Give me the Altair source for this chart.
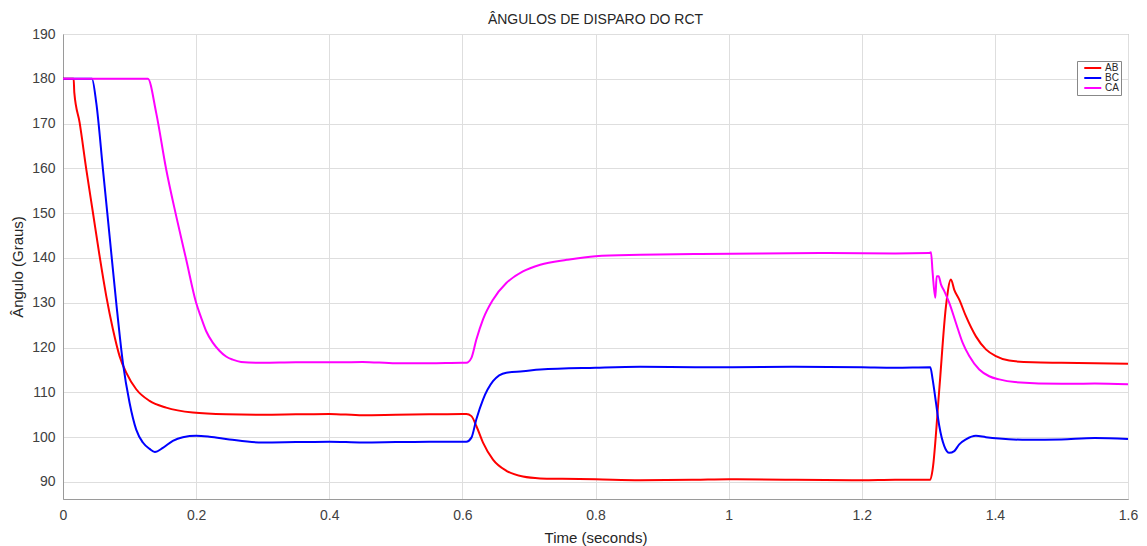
import altair as alt
import pandas as pd

AB_t = [0, 0.016, 0.017, 0.025, 0.035, 0.045, 0.055, 0.065, 0.075, 0.085, 0.095, 0.11, 0.13, 0.155, 0.195, 0.245,
        0.3, 0.35, 0.4, 0.45, 0.5, 0.55, 0.6, 0.606, 0.6136, 0.621, 0.631, 0.646, 0.666, 0.691, 0.717, 0.75, 0.8,
        0.867, 0.95, 1.0, 1.1, 1.2, 1.25, 1.303, 1.3065, 1.3165, 1.3265, 1.334, 1.339, 1.3465, 1.3565, 1.3715,
        1.3865, 1.4015, 1.4215, 1.4565, 1.5, 1.55, 1.6]
AB_v = [180, 180, 176.9, 170.2, 159.8, 150.1, 140.4, 131.5, 124.1, 118.1, 114.4, 110.7, 108.1, 106.6, 105.5, 105.1,
        105.0, 105.1, 105.2, 104.9, 105.0, 105.1, 105.2, 105.2, 104.7, 102.5, 98.8, 95.0, 92.5, 91.2, 90.8, 90.7, 90.6,
        90.4, 90.5, 90.6, 90.5, 90.4, 90.5, 90.5, 92.8, 110.7, 129.2, 135.2, 132.9, 130.7, 127.0, 122.5,
        119.6, 118.1, 117.1, 116.7, 116.6, 116.5, 116.4]

BC_t = [0, 0.0435, 0.05, 0.06, 0.07, 0.08, 0.09, 0.10, 0.11, 0.12, 0.13, 0.138, 0.15, 0.165, 0.18, 0.2, 0.22, 0.25,
        0.3, 0.35, 0.4, 0.45, 0.5, 0.55, 0.6, 0.606, 0.6136, 0.621, 0.631, 0.646, 0.666, 0.691, 0.717, 0.8, 0.867,
        0.95, 1.0, 1.1, 1.2, 1.25, 1.303, 1.3065, 1.3115, 1.3165, 1.324, 1.3315, 1.339, 1.3465, 1.3565, 1.3715,
        1.3865, 1.4065, 1.45, 1.5, 1.55, 1.6]
BC_v = [180, 180, 174.6, 159.8, 144.9, 130.0, 116.6, 107.7, 101.7, 98.8, 97.4, 96.7, 97.6, 99.2, 100.0, 100.3, 100.1, 99.5,
        98.8, 98.9, 99.0, 98.8, 98.9, 99.0, 99.0, 99.0, 99.9, 104.0, 108.4, 112.5, 114.4, 114.7, 115.1, 115.5, 115.7,
        115.6, 115.6, 115.7, 115.6, 115.5, 115.6, 112.9, 107.7, 102.5, 98.0, 96.5, 96.9, 98.4, 99.5, 100.3,
        100.0, 99.7, 99.4, 99.5, 99.8, 99.6]

CA_t = [0, 0.1275, 0.14, 0.155, 0.17, 0.185, 0.2, 0.2075, 0.215, 0.225, 0.235, 0.245, 0.255, 0.2675, 0.3, 0.35,
        0.4, 0.45, 0.5, 0.55, 0.6,
        0.606, 0.6136, 0.621, 0.631, 0.646, 0.666, 0.691, 0.717, 0.757, 0.8, 0.867, 0.958, 1.05, 1.15, 1.25, 1.3015,
        1.304, 1.3065, 1.3105, 1.3125, 1.3155, 1.319, 1.324, 1.3315, 1.3415, 1.3515, 1.3615, 1.3765, 1.3915, 1.4065,
        1.43, 1.5, 1.55, 1.6]
CA_v = [180, 180, 172.4, 159.8, 149.4, 139.7, 130.0, 126.7, 123.7, 121.1, 119.3, 118.0, 117.3, 116.8, 116.6, 116.7,
        116.7, 116.8, 116.5, 116.5, 116.6,
        116.6, 117.7, 121.8, 126.3, 130.7, 134.4, 137.0, 138.5, 139.6, 140.4, 140.7, 140.9, 141.0, 141.1, 141.0, 141.1,
        141.3, 136.7, 131.1, 135.9, 135.9, 134.1, 132.6, 130.0, 125.5, 121.1, 118.1, 115.1, 113.6, 112.9,
        112.3, 111.9, 112.0, 111.8]

series = ["AB", "BC", "CA"]
colors = ["#ff0000", "#0000ff", "#ff00ff"]
x_ticks = [0, 0.2, 0.4, 0.6, 0.8, 1.0, 1.2, 1.4, 1.6]
y_ticks = [90, 100, 110, 120, 130, 140, 150, 160, 170, 180, 190]

rows = []
for name, ts, vs in [("AB", AB_t, AB_v), ("BC", BC_t, BC_v), ("CA", CA_t, CA_v)]:
    for t, v in zip(ts, vs):
        rows.append({"t": t, "v": v, "s": name})
df = pd.DataFrame(rows)

FONT = "Liberation Sans"

chart = alt.Chart(df).mark_line(strokeWidth=2, clip=True, interpolate="monotone").encode(
    x=alt.X("t:Q", title="Time (seconds)",
            scale=alt.Scale(domain=[0, 1.6], nice=False, zero=False),
            axis=alt.Axis(values=x_ticks, format="~g", labelFontSize=14, titleFontSize=15,
                          labelPadding=9, titlePadding=8, ticks=False, labelFlush=False)),
    y=alt.Y("v:Q", title="Ângulo (Graus)",
            scale=alt.Scale(domain=[86.2, 190], nice=False, zero=False),
            axis=alt.Axis(values=y_ticks, labelFontSize=14, titleFontSize=15,
                          labelPadding=8, titlePadding=6, ticks=False)),
    color=alt.Color("s:N", title=None,
                    scale=alt.Scale(domain=series, range=colors),
                    legend=alt.Legend(orient="none", legendX=1014, legendY=27,
                                      symbolType="M0.1,0H6.3", symbolSize=30, symbolStrokeWidth=2,
                                      labelFontSize=10, labelOffset=16, rowPadding=0,
                                      strokeColor="#888888", fillColor="white", padding=2,
                                      labelColor="#262626", labelFont=FONT)),
).properties(
    width=1065, height=465,
    title=alt.TitleParams("ÂNGULOS DE DISPARO DO RCT", fontSize=14, fontWeight="normal",
                          color="#262626", font=FONT, anchor="middle", offset=0),
    autosize=alt.AutoSizeParams(type="none"),
    padding={"left": 63, "top": 34, "right": 19, "bottom": 47},
).configure_view(
    stroke="#9a9a9a", strokeWidth=1
).configure_axis(
    grid=True, gridColor="#dedede", gridWidth=1,
    domainColor="#9a9a9a", labelColor="#404040", titleColor="#262626",
    labelFont=FONT, titleFont=FONT, titleFontWeight="normal"
)

chart.save("out.html", embed_options={"renderer": "svg", "actions": False})
